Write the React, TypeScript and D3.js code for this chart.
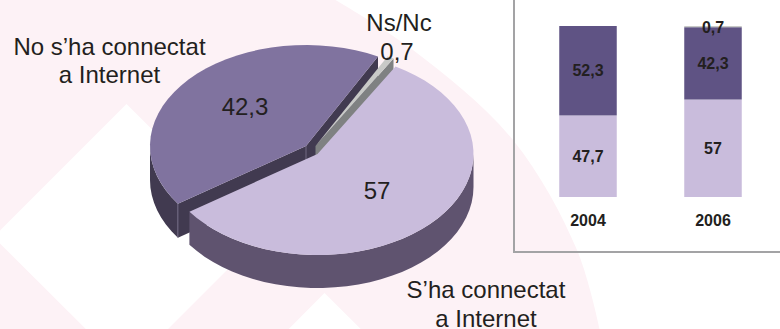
import React from "react";
import * as d3 from "d3";

const pieCategories = ["S'ha connectat a Internet", "No s'ha connectat a Internet", "Ns/Nc"];
const pieValues = [57, 42.3, 0.7];
const years = ["2004", "2006"];
const connected = [47.7, 57];
const notConnected = [52.3, 42.3];
const noAnswer = [0, 0.7];
const connectedLabels = ["47,7", "57"];
const notConnectedLabels = ["52,3", "42,3"];
const noAnswerLabels = ["", "0,7"];

const W = 780, H = 329;
const RX = 156, RY = 101;
const PINK = "#fdf2f6";
const INK = "#231f20";
const FONT = "'Liberation Sans', Arial, sans-serif";

const styles = [
  { cx: 317.5, cy: 154, depth: 33, top: "#c9bcdc", wall: "#5f536f", inner: "#5f536f" },
  { cx: 306, cy: 146, depth: 34, top: "#80739f", wall: "#413a50", inner: "#413a50" },
  { cx: 315.5, cy: 146, depth: 34, top: "#c8c9c7", wall: "#7f8182", inner: "#7f8182" },
];

const whiteCurve: [number, number][] = [[332, -2], [413, 50], [513, 140], [577, 250], [600, 331]];
const line = d3.line();

function proj(cx: number, cy: number, a: number): [number, number] {
  return [cx + RX * Math.sin(a), cy - RY * Math.cos(a)];
}
function arcPts(cx: number, cy: number, a0: number, a1: number): [number, number][] {
  const n = Math.max(2, Math.ceil(Math.abs(a1 - a0) / (Math.PI / 40)));
  return d3.range(n + 1).map((i) => proj(cx, cy, a0 + ((a1 - a0) * i) / n));
}

const arcs = d3.pie<number>().sort(null).value((d) => d)
  .startAngle((30 * Math.PI) / 180).endAngle((390 * Math.PI) / 180)(pieValues);

function Slice({ i }: { i: number }) {
  const { cx, cy, depth, top, wall, inner } = styles[i];
  const { startAngle: a0, endAngle: a1 } = arcs[i];
  const rim = arcPts(cx, cy, a0, a1);
  const tau = Math.PI * 2;
  const walls: [number, number][][] = [];
  for (const k of [0, 1]) {
    const s = Math.max(a0, Math.PI / 2 + k * tau);
    const e = Math.min(a1, (3 * Math.PI) / 2 + k * tau);
    if (e > s) {
      const up = arcPts(cx, cy, s, e);
      const down = up.slice().reverse().map(([x, y]) => [x, y + depth] as [number, number]);
      walls.push([...up, ...down]);
    }
  }
  const face = (a: number): [number, number][] => {
    const p = proj(cx, cy, a);
    return [[cx, cy], p, [p[0], p[1] + depth], [cx, cy + depth]];
  };
  const faces = i === 0 ? [] : i === 1 ? [face(a0), face(a1)] : [face(a1)];
  const corner = proj(cx, cy, a0);
  return (
    <g>
      {faces.map((f, k) => <path key={k} d={line(f) + "Z"} fill={inner} />)}
      {walls.map((f, k) => <path key={k} d={line(f) + "Z"} fill={wall} />)}
      {i === 1 && (
        <g stroke="#7d7790" strokeWidth={0.8}>
          <line x1={corner[0]} y1={corner[1]} x2={corner[0]} y2={corner[1] + depth} />
          <line x1={cx} y1={cy} x2={cx} y2={cy + 14} />
        </g>
      )}
      <path d={line([[cx, cy], ...rim]) + "Z"} fill={top} />
    </g>
  );
}

function Bars() {
  const x = d3.scaleBand<string>().domain(years).range([525.5, 775.5]).paddingInner(0.54).paddingOuter(0.27);
  const y = d3.scaleLinear().domain([0, 100]).range([197, 26]);
  return (
    <g fontFamily={FONT} fontWeight="bold" fontSize={16} fill={INK} textAnchor="middle">
      {years.map((yr, i) => {
        const x0 = x(yr)!;
        const bw = x.bandwidth();
        const mid = x0 + bw / 2;
        const s1 = connected[i], s2 = s1 + notConnected[i], s3 = s2 + noAnswer[i];
        return (
          <g key={yr}>
            <rect x={x0} y={y(s1)} width={bw} height={y(0) - y(s1)} fill="#c9bcdc" />
            <rect x={x0} y={y(s2)} width={bw} height={y(s1) - y(s2)} fill="#5f5384" />
            {noAnswer[i] > 0 && <rect x={x0} y={y(s3)} width={bw} height={y(s2) - y(s3)} fill="#c8c9c7" />}
            <text x={mid} y={(y(0) + y(s1)) / 2 + 5.5}>{connectedLabels[i]}</text>
            <text x={mid} y={(y(s1) + y(s2)) / 2 + 5.5}>{notConnectedLabels[i]}</text>
            {noAnswerLabels[i] && <text x={mid} y={33}>{noAnswerLabels[i]}</text>}
            <text x={mid} y={226}>{yr}</text>
          </g>
        );
      })}
    </g>
  );
}

export default function App() {
  const whiteEdge = d3.line().curve(d3.curveCatmullRom)(whiteCurve)!;
  return (
    <svg width={W} height={H} viewBox={`0 0 ${W} ${H}`}
      style={{ position: "absolute", left: 0, top: 0, display: "block" }}>
      <rect width={W} height={H} fill={PINK} />
      <path d={whiteEdge + `L${W},331L${W},-2Z`} fill="#fff" />
      <path d="M126.5,104L260,237L127,370L-6.5,237Z" fill="#fff" />
      <path d="M324.5,293L400,368L250,368Z" fill="#fff" />

      <path d={`M514,-2V252H780`} fill="none" stroke="#a3a3a5" strokeWidth={2} />
      <Bars />

      <Slice i={1} />
      <Slice i={2} />
      <Slice i={0} />

      <g fontFamily={FONT} fontSize={24} fill={INK} textAnchor="middle">
        <text x={109.5} y={55}>No s’ha connectat</text>
        <text x={109.5} y={83}>a Internet</text>
        <text x={399} y={31}>Ns/Nc</text>
        <text x={397} y={60}>0,7</text>
        <text x={245} y={115}>42,3</text>
        <text x={377} y={199}>57</text>
        <text x={486} y={298}>S’ha connectat</text>
        <text x={486} y={327}>a Internet</text>
      </g>
    </svg>
  );
}
